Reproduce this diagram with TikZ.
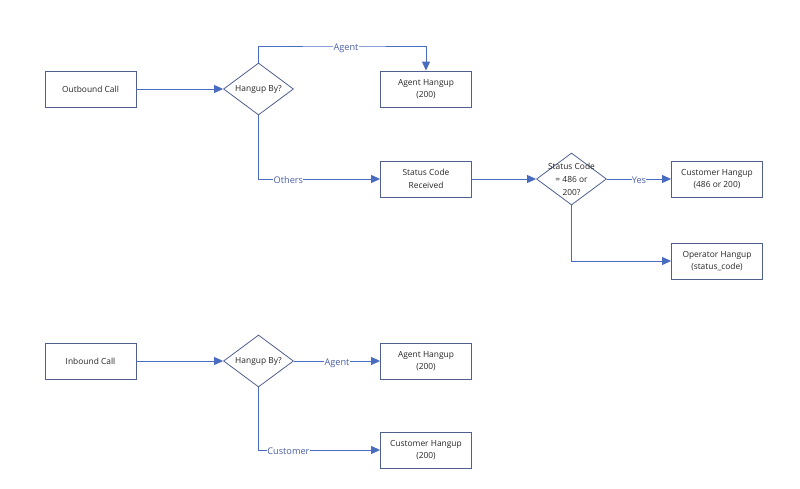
\documentclass[tikz,border=0pt]{standalone}
\usepackage{fontspec}
\setmainfont{Open Sans}
\usetikzlibrary{shapes.geometric,arrows.meta}
\definecolor{boxline}{HTML}{4F5F8F}
\definecolor{conn}{HTML}{4A6CC0}
\definecolor{lbl}{HTML}{4A5FA8}
\tikzset{
  procbox/.style={draw=boxline,line width=0.8pt,minimum width=91pt,minimum height=36pt,inner sep=0pt,align=center,font=\fontsize{8.4}{12.5}\selectfont,text=black!85},
  decide/.style={draw=boxline,line width=0.8pt,diamond,minimum width=70pt,minimum height=52pt,inner sep=0pt},
  dtext/.style={align=center,font=\fontsize{8.4}{13}\selectfont,text=black!85,inner sep=0pt},
  flow/.style={draw=conn,line width=0.9pt,-{Triangle[length=9pt,width=8pt]}},
  elabel/.style={fill=white,inner sep=0.3pt,text=lbl,font=\fontsize{9.2}{10}\selectfont,text height=1.6ex,text depth=0.3ex,yshift=-0.6pt}
}
\begin{document}
\begin{tikzpicture}[x=1pt,y=-1pt]
\path[use as bounding box] (0,0) rectangle (800,489);
% outbound
\node[procbox] (ob) at (90.5,89) {Outbound Call};
\node[decide] (h1) at (258.5,89) {};
\node[dtext] (h1t) at (258.5,89) {Hangup By?};
\node[procbox] (ah1) at (426,89) {Agent Hangup\\(200)};
\node[procbox] (sc) at (426,179) {Status Code\\Received};
\node[decide] (d2) at (571.5,179) {};
\node[dtext] (d2t) at (571.5,179) {Status Code\\= 486 or\\200?};
\node[procbox] (ch1) at (717,179) {Customer Hangup\\(486 or 200)};
\node[procbox] (oh) at (717,261) {Operator Hangup\\(status\_code)};
\draw[flow] (ob) -- (h1);
\draw[flow] (h1.north) |- (346,46) node[elabel] {Agent} -| (ah1.north);
\draw[flow] (h1.south) |- (sc.west) node[elabel,pos=0.623] {Others};
\draw[flow] (sc) -- (d2);
\draw[flow] (d2) -- (ch1) node[elabel,midway] {Yes};
\draw[flow] (d2.south) |- (oh.west);
% inbound
\node[procbox] (ib) at (90.5,361) {Inbound Call};
\node[decide] (h2) at (258.5,361) {};
\node[dtext] (h2t) at (258.5,361) {Hangup By?};
\node[procbox] (ah2) at (426,361) {Agent Hangup\\(200)};
\node[procbox] (ch2) at (426,450) {Customer Hangup\\(200)};
\draw[flow] (ib) -- (h2);
\draw[flow] (h2) -- (ah2) node[elabel,pos=0.5] {Agent};
\draw[flow] (h2.south) |- (ch2.west) node[elabel,pos=0.623] {Customer};
\end{tikzpicture}
\end{document}
